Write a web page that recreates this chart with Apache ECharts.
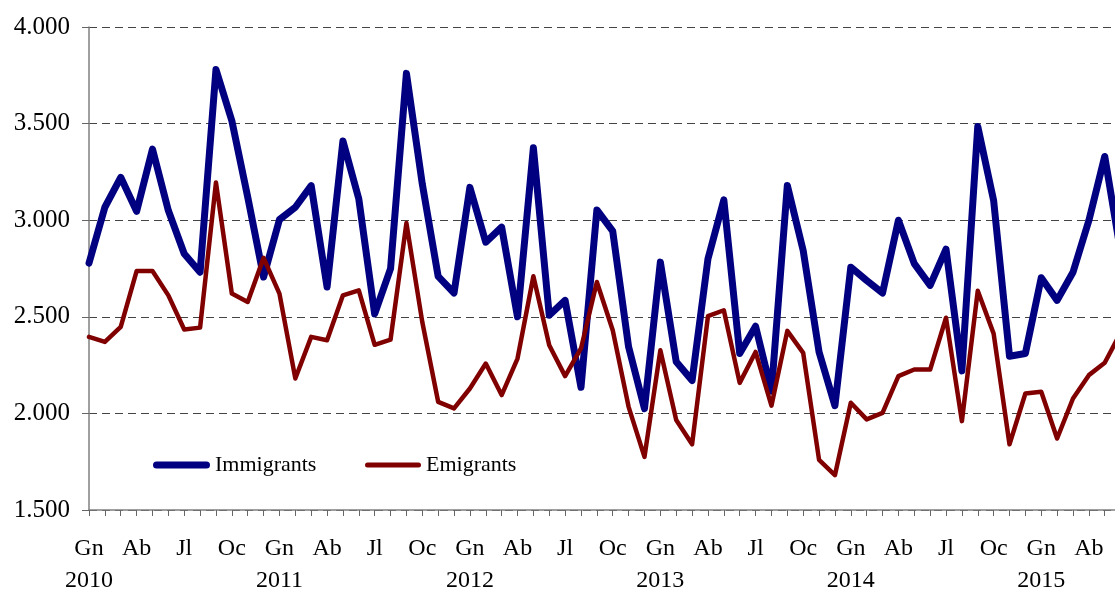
<!DOCTYPE html>
<html>
<head>
<meta charset="utf-8">
<script src="https://cdn.jsdelivr.net/npm/echarts@6/dist/echarts.min.js"></script>
<style>
html,body{margin:0;padding:0;background:#fff;}
#chart{width:1115px;height:590px;}
</style>
</head>
<body>
<div id="chart"></div>
<script>
var monthAbbr = ["Gn","Fb","Mç","Ab","Mg","Jn","Jl","Ag","St","Oc","Nv","Ds"];
var startYear = 2010;
var immigrants = [2778,3067,3222,3046,3368,3050,2826,2731,3780,3515,3120,2706,
                  3003,3067,3179,2654,3410,3110,2515,2749,3760,3188,2709,2623,
                  3170,2886,2964,2500,3375,2508,2585,2135,3053,2943,2344,2025,
                  2783,2267,2170,2800,3105,2310,2451,2115,3180,2843,2318,2040,
                  2757,2688,2623,3000,2775,2663,2850,2220,3485,3102,2296,2310,
                  2702,2585,2731,2998,3330,2836];
var emigrants = [2396,2370,2448,2737,2737,2611,2434,2444,3195,2620,2577,2805,
                 2620,2181,2396,2379,2611,2637,2355,2382,2985,2473,2060,2026,
                 2129,2258,2095,2284,2710,2353,2193,2336,2680,2430,2034,1775,
                 2327,1966,1840,2503,2534,2158,2318,2040,2427,2313,1760,1680,
                 2055,1969,2003,2193,2227,2227,2495,1960,2635,2413,1840,2103,
                 2112,1870,2077,2198,2262,2417];
var seriesNames = ["Immigrants","Emigrants"];
var yMin = 1500, yMax = 4000, yStep = 500;

var categories = immigrants.map(function(_, i){
  var m = i % 12;
  return m === 0 ? monthAbbr[m] + "\n" + (startYear + i/12) : monthAbbr[m];
});

var font = "'Liberation Serif','Times New Roman',serif";
var legendText = {fontFamily:font, fontSize:22, color:'#000'};
var capsule = function(w, h){
  var r = h/2;
  return 'path://M' + r + ',0 L' + (w-r) + ',0 A' + r + ',' + r + ' 0 0 1 ' + (w-r) + ',' + h +
         ' L' + r + ',' + h + ' A' + r + ',' + r + ' 0 0 1 ' + r + ',0 Z';
};
var chart = echarts.init(document.getElementById('chart'), null, {renderer:'canvas'});
chart.setOption({
  animation:false,
  backgroundColor:'#fff',
  grid:{left:89, width:1031.6, top:27, height:483, containLabel:false, outerBoundsMode:'none'},
  legend:[
    {left:148, top:449, itemWidth:57, itemHeight:7, textStyle:legendText,
     data:[{name:seriesNames[0], icon:capsule(57,7), itemStyle:{color:'#000080'}}]},
    {left:360, top:449, itemWidth:56, itemHeight:5, textStyle:legendText,
     data:[{name:seriesNames[1], icon:capsule(56,5), itemStyle:{color:'#800000'}}]}
  ],
  xAxis:{
    type:'category', data:categories, boundaryGap:false,
    axisLine:{lineStyle:{color:'#808080', width:1.5}},
    axisTick:{show:true, interval:0, length:6, lineStyle:{color:'#666'}},
    axisLabel:{interval:2, margin:23, fontFamily:font, fontSize:24, lineHeight:32, color:'#000'},
    splitLine:{show:false}
  },
  yAxis:{
    type:'value', min:yMin, max:yMax, interval:yStep,
    axisLine:{show:true, lineStyle:{color:'#808080', width:1.5}},
    axisTick:{show:true, length:7, lineStyle:{color:'#666'}},
    axisLabel:{margin:19, fontFamily:font, fontSize:25, color:'#000',
      formatter:function(v){ return String(v).replace(/\B(?=(\d{3})+(?!\d))/g,'.'); }},
    splitLine:{show:true, lineStyle:{color:'#444', width:1, type:[8,5]}}
  },
  series:[
    {name:seriesNames[0], type:'line', data:immigrants, symbol:'none', clip:false,
     lineStyle:{color:'#000080', width:7, cap:'round', join:'round'}, itemStyle:{color:'#000080'}},
    {name:seriesNames[1], type:'line', data:emigrants, symbol:'none', clip:false,
     lineStyle:{color:'#800000', width:4.5, cap:'round', join:'round'}, itemStyle:{color:'#800000'}}
  ]
});
</script>
</body>
</html>
